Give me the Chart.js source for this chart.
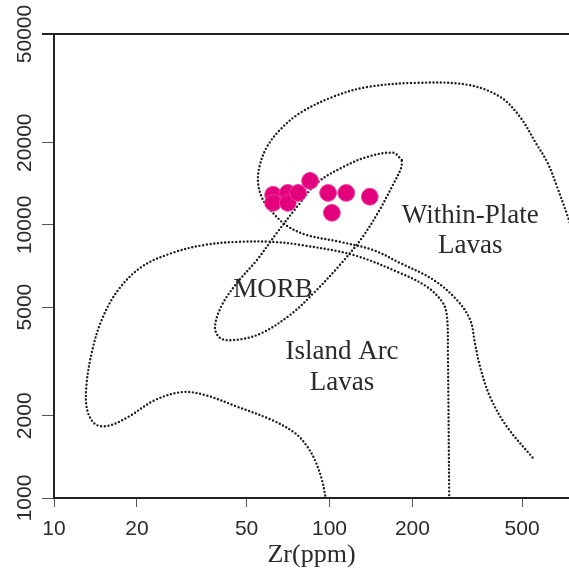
<!DOCTYPE html>
<html>
<head>
<meta charset="utf-8">
<script src="https://cdn.jsdelivr.net/npm/chart.js@4.4.1/dist/chart.umd.min.js"></script>
<style>
  html, body { margin: 0; padding: 0; background: #ffffff; }
  canvas { display: block; }
</style>
</head>
<body>
<canvas id="chart" width="569" height="575"></canvas>
<script>
// ---- axis ticks ----
const xTicks = [10, 20, 50, 100, 200, 500];
const xTickLabels = ['10', '20', '50', '100', '200', '500'];
const yTicks = [1000, 2000, 5000, 10000, 20000, 50000];
const yTickLabels = ['1000', '2000', '5000', '10000', '20000', '50000'];

// ---- samples (Zr ppm vs Ti ppm) ----
const sampleZr = [62.4, 62.4, 70.6, 70.6, 76.9, 85.0, 98.8, 115, 140, 102];
const sampleTi = [12890, 12040, 13090, 12040, 13090, 14490, 13090, 13090, 12680, 11070];

// ---- Within-Plate Lavas field boundary ----
const wpZr = [778, 735, 670, 620, 560, 491, 416, 316, 208, 137, 103, 78.2, 66.1, 59.3, 55.9, 55.0, 56.9, 61.8, 70.2, 82.8, 109, 144, 180, 238, 290, 324, 337, 352, 383, 441, 548];
const wpTi = [8810, 10610, 13770, 16800, 20000, 24880, 29440, 32600, 33130, 31980, 29440, 25700, 22290, 19320, 16600, 14390, 12560, 11170, 9910, 9180, 8670, 8090, 7260, 6300, 5310, 4490, 3700, 3020, 2340, 1820, 1400];

// ---- Island Arc Lavas field boundary ----
const iaZr = [97.0, 93.9, 88.5, 82.8, 75.0, 61.8, 46.6, 35.3, 29.2, 23.3, 18.6, 15.7, 14.1, 13.2, 13.1, 13.7, 14.9, 17.1, 20.8, 26.8, 35.3, 46.6, 61.8, 78.2, 122, 180, 226, 258, 267, 269, 272];
const iaTi = [990, 1164, 1377, 1549, 1728, 1930, 2153, 2383, 2443, 2286, 1982, 1837, 1866, 2099, 2552, 3396, 4490, 5780, 7020, 7890, 8450, 8670, 8670, 8450, 7760, 6670, 5930, 5180, 4600, 3396, 990];

// ---- MORB field boundary (closed) ----
const morbZr = [183, 170, 137, 112, 90.2, 76.2, 64.4, 54.6, 46.2, 40.7, 38.4, 40.1, 45.4, 55.9, 71.9, 88.5, 109, 131, 152, 170, 182, 183];
const morbTi = [17300, 18370, 17740, 16290, 14260, 11640, 9350, 7450, 6140, 5090, 4230, 3850, 3790, 3990, 4680, 5690, 7130, 8950, 11350, 14030, 16180, 17300];

// ---- field names ----
const fieldLabels = ['Within-Plate', 'Lavas', 'MORB', 'Island Arc', 'Lavas'];
const fieldLabelZr = [324, 324, 62.4, 111, 111];
const fieldLabelTi = [10170, 7890, 5450, 3230, 2490];

const toPts = (xs, ys) => xs.map((v, i) => ({ x: v, y: ys[i] }));

const dotted = {
  showLine: true,
  pointRadius: 0,
  pointHoverRadius: 0,
  borderColor: '#1e1e1e',
  borderWidth: 2.4,
  borderDash: [0, 3.7],
  borderCapStyle: 'round',
  tension: 0.35,
  fill: false,
  order: 2
};

const deco = {
  id: 'deco',
  afterDraw(chart) {
    const { ctx, chartArea: a, scales: { x, y } } = chart;
    ctx.save();
    // top frame line
    ctx.strokeStyle = '#222';
    ctx.lineWidth = 2;
    ctx.beginPath();
    ctx.moveTo(a.left - 12, a.top);
    ctx.lineTo(a.right, a.top);
    ctx.stroke();
    // rotated y tick labels
    ctx.fillStyle = '#2b2b2b';
    ctx.font = '21px "Liberation Sans", Arial, sans-serif';
    ctx.textAlign = 'center';
    ctx.textBaseline = 'middle';
    yTicks.forEach((v, i) => {
      const py = y.getPixelForValue(v);
      ctx.save();
      ctx.translate(a.left - 29, py);
      ctx.rotate(-Math.PI / 2);
      ctx.fillText(yTickLabels[i], 0, 0);
      ctx.restore();
    });
    // field names
    ctx.fillStyle = '#2a2a2a';
    ctx.font = '27px "Liberation Serif", "Times New Roman", serif';
    ctx.textBaseline = 'alphabetic';
    fieldLabels.forEach((t, i) => {
      ctx.fillText(t, x.getPixelForValue(fieldLabelZr[i]), y.getPixelForValue(fieldLabelTi[i]));
    });
    ctx.restore();
  }
};

const zeroPad = (s) => { s.paddingLeft = 0; s.paddingRight = 0; s.paddingTop = 0; s.paddingBottom = 0; };

new Chart(document.getElementById('chart'), {
  type: 'scatter',
  data: {
    datasets: [
      {
        label: 'Samples',
        data: toPts(sampleZr, sampleTi),
        pointRadius: 8.4,
        pointHoverRadius: 8.4,
        backgroundColor: '#e4007c',
        borderColor: '#ea3d9b',
        borderWidth: 1,
        showLine: false,
        order: 0
      },
      Object.assign({ label: 'Within-Plate', data: toPts(wpZr, wpTi) }, dotted),
      Object.assign({ label: 'Island Arc', data: toPts(iaZr, iaTi) }, dotted),
      Object.assign({ label: 'MORB', data: toPts(morbZr, morbTi) }, dotted)
    ]
  },
  options: {
    responsive: false,
    animation: false,
    devicePixelRatio: 1,
    layout: { autoPadding: false, padding: { left: 42, right: 0, top: 34, bottom: 0 } },
    plugins: { legend: { display: false }, tooltip: { enabled: false } },
    scales: {
      x: {
        type: 'logarithmic',
        min: 10,
        max: 740,
        afterBuildTicks: (s) => { s.ticks = xTicks.map(v => ({ value: v })); },
        afterFit: (s) => { s.height = 77; zeroPad(s); },
        ticks: {
          autoSkip: false,
          maxRotation: 0,
          minRotation: 0,
          padding: 10,
          color: '#2b2b2b',
          font: { family: '"Liberation Sans", Arial, sans-serif', size: 21 },
          callback: (v, i) => xTickLabels[i]
        },
        grid: { display: true, drawOnChartArea: false, drawTicks: true, tickLength: 9, color: '#555', lineWidth: 1 },
        border: { display: true, color: '#222', width: 2 },
        title: {
          display: true,
          text: 'Zr(ppm)',
          color: '#2a2a2a',
          font: { family: '"Liberation Serif", "Times New Roman", serif', size: 26 },
          padding: { top: 0, bottom: 4 }
        }
      },
      y: {
        type: 'logarithmic',
        min: 1000,
        max: 50000,
        afterBuildTicks: (s) => { s.ticks = yTicks.map(v => ({ value: v })); },
        afterFit: (s) => { s.width = 12; zeroPad(s); },
        ticks: { display: false },
        grid: { display: true, drawOnChartArea: false, drawTicks: true, tickLength: 12, color: '#555', lineWidth: 1 },
        border: { display: true, color: '#222', width: 2 }
      }
    }
  },
  plugins: [deco]
});
</script>
</body>
</html>
